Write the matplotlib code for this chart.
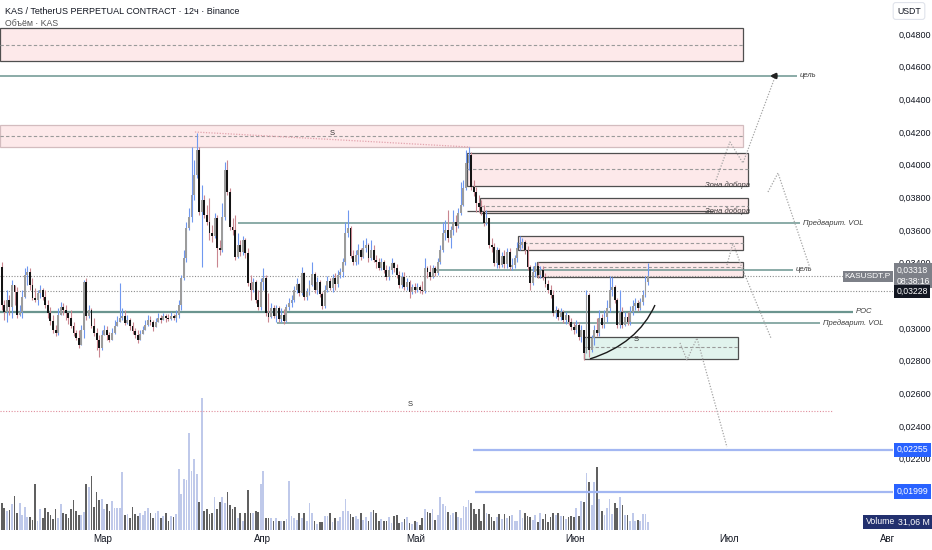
import matplotlib
matplotlib.use('Agg')
import matplotlib.pyplot as plt
import matplotlib.dates as mdates
from matplotlib.patches import Rectangle, PathPatch
from matplotlib.path import Path
from matplotlib.ticker import FuncFormatter
import numpy as np
import pandas as pd

plt.rcParams['font.family'] = ['Liberation Sans', 'DejaVu Sans']

# --- KAS/USDT perp, 12h candles ---
first_open = 0.03374
closes = [
    0.03141, 0.03099, 0.03172, 0.03129, 0.03264, 0.03221, 0.03080, 0.03099, 0.03190, 0.03325,
    0.03343, 0.03264, 0.03184, 0.03172, 0.03215, 0.03233, 0.03190, 0.03141, 0.03092, 0.03043,
    0.02988, 0.02970, 0.03080, 0.03129, 0.03111, 0.03092, 0.03062, 0.03013, 0.02970, 0.02939,
    0.02897, 0.02988, 0.03282, 0.03074, 0.03111, 0.03013, 0.02970, 0.02927, 0.02878, 0.02958,
    0.02988, 0.02958, 0.02927, 0.02970, 0.03013, 0.03037, 0.03062, 0.03074, 0.03031, 0.03050,
    0.03013, 0.02982, 0.02958, 0.02927, 0.02964, 0.02988, 0.03019, 0.03050, 0.03037, 0.03007,
    0.03037, 0.03062, 0.03050, 0.03074, 0.03062, 0.03056, 0.03074, 0.03062, 0.03080, 0.03141,
    0.03307, 0.03429, 0.03613, 0.03680, 0.03815, 0.03937, 0.04090, 0.03711, 0.03784, 0.03692,
    0.03649, 0.03582, 0.03564, 0.03674, 0.03490, 0.03478, 0.03680, 0.03968, 0.03833, 0.03619,
    0.03600, 0.03435, 0.03509, 0.03466, 0.03539, 0.03460, 0.03276, 0.03233, 0.03282, 0.03172,
    0.03129, 0.03282, 0.03307, 0.03092, 0.03068, 0.03123, 0.03074, 0.03123, 0.03056, 0.03080,
    0.03043, 0.03129, 0.03154, 0.03172, 0.03233, 0.03270, 0.03215, 0.03337, 0.03190, 0.03221,
    0.03264, 0.03331, 0.03233, 0.03282, 0.03209, 0.03135, 0.03233, 0.03288, 0.03245, 0.03307,
    0.03270, 0.03325, 0.03343, 0.03405, 0.03582, 0.03613, 0.03441, 0.03405, 0.03447, 0.03478,
    0.03435, 0.03490, 0.03509, 0.03429, 0.03478, 0.03417, 0.03405, 0.03368, 0.03405, 0.03356,
    0.03313, 0.03356, 0.03398, 0.03368, 0.03325, 0.03264, 0.03313, 0.03252, 0.03282, 0.03221,
    0.03252, 0.03233, 0.03252, 0.03233, 0.03227, 0.03368, 0.03343, 0.03313, 0.03368, 0.03337,
    0.03405, 0.03478, 0.03582, 0.03600, 0.03551, 0.03600, 0.03649, 0.03625, 0.03704, 0.03753,
    0.03857, 0.04010, 0.04059, 0.03864, 0.03833, 0.03766, 0.03741, 0.03711, 0.03643, 0.03674,
    0.03509, 0.03496, 0.03398, 0.03478, 0.03386, 0.03441, 0.03392, 0.03466, 0.03374, 0.03386,
    0.03429, 0.03490, 0.03509, 0.03527, 0.03478, 0.03374, 0.03276, 0.03343, 0.03380, 0.03325,
    0.03356, 0.03313, 0.03270, 0.03233, 0.03203, 0.03092, 0.03111, 0.03068, 0.03099, 0.03050,
    0.03080, 0.03037, 0.03007, 0.02988, 0.03019, 0.02946, 0.02988, 0.02848, 0.03203, 0.02866,
    0.02939, 0.02988, 0.02970, 0.03062, 0.03019, 0.03068, 0.03123, 0.03233, 0.03252, 0.03172,
    0.03019, 0.03099, 0.03019, 0.03068, 0.03037, 0.03099, 0.03135, 0.03154, 0.03123, 0.03160,
    0.03203, 0.03282, 0.03318,
]
highs = [
    0.03405, 0.03172, 0.03233, 0.03203, 0.03294, 0.03245, 0.03252, 0.03141, 0.03233, 0.03368,
    0.03380, 0.03368, 0.03307, 0.03245, 0.03233, 0.03264, 0.03245, 0.03233, 0.03172, 0.03129,
    0.03080, 0.03019, 0.03123, 0.03160, 0.03154, 0.03141, 0.03099, 0.03111, 0.03037, 0.02988,
    0.02988, 0.03019, 0.03294, 0.03307, 0.03141, 0.03123, 0.03062, 0.03001, 0.02958, 0.02988,
    0.03019, 0.03013, 0.02976, 0.03001, 0.03050, 0.03074, 0.03276, 0.03123, 0.03111, 0.03080,
    0.03062, 0.03037, 0.03001, 0.02988, 0.02988, 0.03013, 0.03050, 0.03080, 0.03074, 0.03050,
    0.03062, 0.03092, 0.03080, 0.03092, 0.03086, 0.03086, 0.03099, 0.03086, 0.03111, 0.03172,
    0.03325, 0.03478, 0.03649, 0.03735, 0.04108, 0.04029, 0.04194, 0.04108, 0.03876, 0.03815,
    0.03753, 0.03796, 0.03631, 0.03704, 0.03692, 0.03539, 0.03766, 0.04017, 0.04029, 0.03857,
    0.03674, 0.03692, 0.03582, 0.03539, 0.03564, 0.03551, 0.03490, 0.03325, 0.03307, 0.03294,
    0.03233, 0.03307, 0.03368, 0.03325, 0.03215, 0.03154, 0.03141, 0.03141, 0.03135, 0.03123,
    0.03117, 0.03148, 0.03184, 0.03203, 0.03258, 0.03307, 0.03276, 0.03374, 0.03343, 0.03245,
    0.03294, 0.03405, 0.03343, 0.03313, 0.03294, 0.03221, 0.03264, 0.03319, 0.03307, 0.03331,
    0.03337, 0.03356, 0.03368, 0.03429, 0.03649, 0.03723, 0.03625, 0.03478, 0.03478, 0.03515,
    0.03490, 0.03539, 0.03551, 0.03521, 0.03539, 0.03509, 0.03447, 0.03429, 0.03429, 0.03417,
    0.03386, 0.03380, 0.03429, 0.03405, 0.03392, 0.03349, 0.03343, 0.03343, 0.03307, 0.03294,
    0.03270, 0.03276, 0.03276, 0.03264, 0.03288, 0.03429, 0.03380, 0.03386, 0.03386, 0.03380,
    0.03429, 0.03509, 0.03649, 0.03662, 0.03723, 0.03625, 0.03723, 0.03692, 0.03735, 0.03894,
    0.03906, 0.04090, 0.04108, 0.04078, 0.03906, 0.03864, 0.03815, 0.03784, 0.03753, 0.03723,
    0.03674, 0.03551, 0.03521, 0.03496, 0.03490, 0.03466, 0.03478, 0.03490, 0.03490, 0.03429,
    0.03447, 0.03527, 0.03564, 0.03551, 0.03539, 0.03502, 0.03386, 0.03380, 0.03405, 0.03405,
    0.03380, 0.03380, 0.03337, 0.03294, 0.03264, 0.03233, 0.03135, 0.03123, 0.03123, 0.03111,
    0.03099, 0.03080, 0.03062, 0.03037, 0.03050, 0.03037, 0.03019, 0.02988, 0.03233, 0.03215,
    0.02958, 0.03019, 0.03062, 0.03111, 0.03086, 0.03111, 0.03172, 0.03319, 0.03313, 0.03264,
    0.03184, 0.03233, 0.03129, 0.03099, 0.03099, 0.03135, 0.03172, 0.03184, 0.03172, 0.03184,
    0.03233, 0.03319, 0.03398,
]
lows = [
    0.03111, 0.03050, 0.03037, 0.03080, 0.03062, 0.03141, 0.03062, 0.03074, 0.03062, 0.03184,
    0.03264, 0.03233, 0.03172, 0.03160, 0.03141, 0.03184, 0.03172, 0.03123, 0.03062, 0.03019,
    0.02970, 0.02952, 0.02958, 0.03099, 0.03080, 0.03050, 0.03025, 0.03001, 0.02952, 0.02927,
    0.02878, 0.02897, 0.02939, 0.03050, 0.03062, 0.03001, 0.02952, 0.02866, 0.02823, 0.02866,
    0.02958, 0.02927, 0.02915, 0.02939, 0.02964, 0.03013, 0.03050, 0.03050, 0.03019, 0.03025,
    0.02988, 0.02964, 0.02939, 0.02909, 0.02939, 0.02964, 0.03001, 0.03013, 0.03019, 0.02982,
    0.03013, 0.03037, 0.03031, 0.03050, 0.03037, 0.03043, 0.03050, 0.03050, 0.03037, 0.03062,
    0.03111, 0.03294, 0.03405, 0.03600, 0.03649, 0.03784, 0.03919, 0.03692, 0.03374, 0.03674,
    0.03631, 0.03539, 0.03527, 0.03551, 0.03374, 0.03447, 0.03466, 0.03662, 0.03815, 0.03600,
    0.03570, 0.03417, 0.03429, 0.03441, 0.03447, 0.03429, 0.03258, 0.03172, 0.03221, 0.03154,
    0.03111, 0.03111, 0.03233, 0.03074, 0.03037, 0.03062, 0.03062, 0.03037, 0.03037, 0.03037,
    0.03025, 0.03037, 0.03111, 0.03129, 0.03160, 0.03215, 0.03196, 0.03203, 0.03172, 0.03172,
    0.03203, 0.03258, 0.03215, 0.03209, 0.03190, 0.03117, 0.03123, 0.03221, 0.03233, 0.03221,
    0.03233, 0.03252, 0.03307, 0.03313, 0.03386, 0.03558, 0.03429, 0.03386, 0.03386, 0.03392,
    0.03417, 0.03429, 0.03466, 0.03405, 0.03417, 0.03405, 0.03368, 0.03356, 0.03356, 0.03337,
    0.03294, 0.03294, 0.03331, 0.03343, 0.03307, 0.03245, 0.03245, 0.03233, 0.03233, 0.03184,
    0.03209, 0.03215, 0.03221, 0.03215, 0.03209, 0.03215, 0.03307, 0.03294, 0.03307, 0.03319,
    0.03325, 0.03392, 0.03466, 0.03539, 0.03527, 0.03490, 0.03570, 0.03588, 0.03613, 0.03692,
    0.03747, 0.03845, 0.03968, 0.03845, 0.03808, 0.03711, 0.03711, 0.03692, 0.03625, 0.03631,
    0.03490, 0.03466, 0.03380, 0.03368, 0.03368, 0.03374, 0.03368, 0.03368, 0.03356, 0.03356,
    0.03368, 0.03405, 0.03478, 0.03490, 0.03454, 0.03356, 0.03233, 0.03264, 0.03313, 0.03307,
    0.03307, 0.03294, 0.03252, 0.03215, 0.03184, 0.03074, 0.03062, 0.03050, 0.03050, 0.03031,
    0.03025, 0.03019, 0.02988, 0.02964, 0.02970, 0.02927, 0.02915, 0.02805, 0.02897, 0.02823,
    0.02854, 0.02897, 0.02952, 0.02952, 0.03001, 0.03001, 0.03037, 0.03099, 0.03196, 0.03154,
    0.03001, 0.03001, 0.03001, 0.03013, 0.03019, 0.03019, 0.03080, 0.03111, 0.03105, 0.03111,
    0.03141, 0.03190, 0.03264,
]
# объём, млн KAS
volumes = [
    108, 88, 76, 80, 104, 136, 68, 108, 60, 92,
    52, 52, 40, 184, 36, 84, 48, 88, 72, 60,
    44, 84, 48, 104, 68, 64, 48, 84, 120, 76,
    60, 60, 72, 184, 172, 216, 92, 152, 120, 124,
    84, 104, 76, 116, 88, 88, 88, 232, 60, 64,
    48, 92, 64, 56, 68, 60, 76, 88, 68,
    48, 68, 76, 48, 56, 68, 36, 56, 52, 64,
    244, 144, 204, 200, 388, 236, 284, 224, 112, 528,
    76, 84, 64, 68, 132, 84, 112, 132, 108, 152,
    100, 84, 92, 48, 68, 36, 68, 160, 68, 68,
    76, 72, 184, 236, 48, 48, 48, 36, 48, 36,
    36, 36, 44, 196, 56, 48, 40, 68, 48, 68,
    36, 108, 68, 36, 24, 32, 32, 56, 56, 68,
    32, 48, 36, 52, 76, 124, 76, 64, 52, 56,
    44, 68, 40, 52, 36, 72, 80, 68, 36, 44,
    36, 36, 52, 28, 56, 60, 28, 32, 44, 52,
    28, 24, 36, 32, 20, 48, 84, 72, 68, 84,
    40, 60, 132, 104, 96, 72, 60, 68, 72, 52,
    48, 96, 92, 120, 108, 84, 64, 84, 36, 104,
    68, 64, 52, 36, 52, 64, 44, 64, 48, 56,
    60, 36, 36, 80, 48, 68, 56, 52, 40, 60,
    32, 68, 44, 64, 32, 52, 68, 60, 68, 56,
    56, 44, 52, 56, 52, 88, 56, 116, 112, 228,
    192, 100, 192, 252, 124, 76, 60, 88, 124, 64,
    108, 88, 132, 100, 60, 60, 36, 68, 36, 40,
    36, 64, 64, 31.06,
]

month_starts = ['2024-03-01', '2024-04-01', '2024-05-01', '2024-06-01', '2024-07-01', '2024-08-01']
month_labels = ['Мар', 'Апр', 'Май', 'Июн', 'Июл', 'Авг']
price_ticks = [0.022, 0.024, 0.026, 0.028, 0.030, 0.034, 0.036,
               0.038, 0.040, 0.042, 0.044, 0.046, 0.048]

# зоны: начало, конец, низ, верх, середина
zone_start = ['2024-02-09 22:00', '2024-02-09 22:00', '2024-05-10 23:00', '2024-05-13 12:00',
              '2024-05-20 21:30', '2024-05-24 14:00', '2024-06-02 18:00']
zone_end = ['2024-07-03 18:00', '2024-07-03 18:00', '2024-07-04 17:30', '2024-07-04 17:30',
            '2024-07-03 18:00', '2024-07-03 18:00', '2024-07-02 19:00']
zone_low = [0.04635, 0.04108, 0.03870, 0.03704, 0.03478, 0.03313, 0.02811]
zone_high = [0.04837, 0.04243, 0.04072, 0.03796, 0.03564, 0.03405, 0.02946]
zone_mid = [0.04733, 0.04176, 0.03974, 0.03747, 0.03521, 0.03374, 0.02884]

# горизонтальные уровни
level_price = [0.04543, 0.03643, 0.03356, 0.03099, 0.03031]
level_start = ['2024-02-09 22:00', '2024-03-27 08:00', '2024-05-04 08:00',
               '2024-02-09 22:00', '2024-04-03 22:00']
level_end = ['2024-07-14 07:00', '2024-07-14 21:00', '2024-07-13 12:00',
             '2024-07-25 05:00', '2024-07-18 18:30']
level_text = ['цель', 'Предварит. VOL', 'цель', 'POC', 'Предварит. VOL']

# прогнозные траектории
path_a = (['2024-06-28 12:00', '2024-07-01 05:00', '2024-07-03 18:00', '2024-07-10 00:00'],
          [0.03906, 0.04139, 0.04010, 0.04537])
path_b = (['2024-07-08 15:00', '2024-07-10 14:00', '2024-07-16 19:30'],
          [0.03833, 0.03949, 0.03368])
path_c = (['2024-06-30 15:00', '2024-07-01 19:30', '2024-07-03 13:30', '2024-07-09 05:00'],
          [0.03386, 0.03521, 0.03368, 0.02939])
path_d = (['2024-06-21 11:30', '2024-06-22 20:00', '2024-06-24 19:00', '2024-06-30 15:00'],
          [0.02909, 0.02805, 0.02939, 0.02272])

last_price = 0.03318
prev_level = 0.03228
blue_levels = [0.02255, 0.01999]
blue_start = ['2024-05-12 03:00', '2024-05-12 12:00']
s_level = 0.02493

D = mdates.datestr2num

times = pd.date_range('2024-02-10 06:00', periods=len(closes), freq='12h')
t = mdates.date2num(times)
c = np.array(closes)
h = np.array(highs)
l = np.array(lows)
o = np.r_[first_open, c[:-1]]
up = c >= o

fig = plt.figure(figsize=(9.32, 5.5), dpi=100)
ax = fig.add_axes([0, 20 / 550, 893 / 932, 530 / 550])
vax = ax.twinx()
ax.set_zorder(vax.get_zorder() + 1)
ax.patch.set_visible(False)

x0, x1 = D('2024-02-09 22:00'), D('2024-08-02 00:00')
ax.set_xlim(x0, x1)
ax.set_ylim(0.01764, 0.05008)
vax.set_ylim(0, 2120)
vax.yaxis.set_visible(False)
for a in (ax, vax):
    for s in a.spines.values():
        s.set_visible(False)

ax.yaxis.tick_right()
ax.set_yticks(price_ticks)
ax.yaxis.set_major_formatter(FuncFormatter(lambda v, p: f'{v:.5f}'.replace('.', ',')))
ax.tick_params(axis='y', length=0, pad=4, labelsize=6.5, labelcolor='#131722')
ax.set_xticks([D(m) for m in month_starts])
ax.set_xticklabels(month_labels)
ax.tick_params(axis='x', length=0, pad=3, labelsize=7, labelcolor='#131722')

# объём
vax.bar(t, volumes, width=0.34, color=np.where(up, '#bfc9ea', '#606060'), lw=0)

# зоны
for i in range(len(zone_low)):
    xs, xe = D(zone_start[i]), D(zone_end[i])
    green = i == 6
    face = '#e1f3ed' if green else '#fde9ea'
    edge = '#d3bcbf' if i == 1 else '#4f4f4f'
    ax.add_patch(Rectangle((xs, zone_low[i]), xe - xs, zone_high[i] - zone_low[i],
                           facecolor=face, edgecolor=edge, lw=0.9, zorder=1))
    ax.hlines(zone_mid[i], xs, xe, colors='#9a9a9a', linestyles=(0, (3, 2)), lw=0.8, zorder=1.5)

ax.hlines(0.03717, D('2024-05-10 23:00'), D('2024-06-27 22:00'), colors='#4f4f4f', lw=0.9, zorder=1.5)
ax.text(D('2024-07-05 03:00'), 0.03876, 'Зона добора', fontsize=5.5, style='italic',
        color='#3a3a3a', ha='right', va='center', zorder=6)
ax.text(D('2024-07-05 03:00'), 0.03717, 'Зона добора', fontsize=5.5, style='italic',
        color='#3a3a3a', ha='right', va='center', zorder=6)

# уровни
for p, xs, xe, txt in zip(level_price, level_start, level_end, level_text):
    lw = 1.6 if txt == 'POC' else 1.1
    ax.hlines(p, D(xs), D(xe), colors='#6b958f', lw=lw, zorder=2)
    ax.text(D(xe) + 0.6, p, txt, fontsize=5.5, style='italic', color='#3a3a3a',
            va='center', ha='left', zorder=6, clip_on=False)

# стрелка у цели
ax.annotate('', xy=(D('2024-07-08 10:00'), 0.04543), xytext=(D('2024-07-10 18:30'), 0.04543),
            arrowprops=dict(arrowstyle='-|>', color='#222222', lw=1.8, mutation_scale=7), zorder=6)

# пунктирная розовая диагональ
ax.plot([D('2024-03-18 22:00'), D('2024-05-11 13:00')], [0.04200, 0.04108],
        ls=(0, (1, 1.2)), color='#e2a3ad', lw=0.9, zorder=2)

# текущая цена и предыдущее закрытие
ax.hlines([last_price, prev_level], x0, x1, colors='#8c8c8c', linestyles=(0, (1, 1.5)), lw=0.8, zorder=2)
ax.hlines(s_level, x0, D('2024-07-21 07:00'), colors='#e08e9c', linestyles=(0, (1, 1.5)), lw=0.8, zorder=2)
for p, xs in zip(blue_levels, blue_start):
    ax.hlines(p, D(xs), x1, colors='#a3b7f2', lw=1.6, zorder=2)

# прогнозные траектории
for px, py in (path_a, path_b, path_c, path_d):
    ax.plot([D(v) for v in px], py, ls=(0, (1, 1.3)), color='#a5a5a5', lw=0.9, zorder=2)

# дуга
verts = [(D('2024-06-03 22:00'), 0.02811), (D('2024-06-13 04:30'), 0.02903),
         (D('2024-06-16 14:30'), 0.03141)]
ax.add_patch(PathPatch(Path(verts, [Path.MOVETO, Path.CURVE3, Path.CURVE3]),
                       facecolor='none', edgecolor='#1a1a1a', lw=1.0, zorder=6))

# метки S
for xs, p in (('2024-04-14 15:00', 0.04192), ('2024-06-12 21:30', 0.02927), ('2024-04-29 20:00', 0.02535)):
    ax.text(D(xs), p, 'S', fontsize=5.5, color='#333333', ha='center', va='center', zorder=6)

# свечи
lo = np.minimum(l, np.minimum(o, c))
hi = np.maximum(h, np.maximum(o, c))
ax.vlines(t, lo, hi, colors=np.where(up, '#6f98f0', '#c98690'), lw=0.8, zorder=4)
ax.bar(t, np.maximum(np.abs(c - o), 0.00004), bottom=np.minimum(o, c), width=0.37,
       color=np.where(up, '#9c9c9c', '#141414'), lw=0, zorder=5)

# ярлыки на шкале
yt = ax.get_yaxis_transform()
ax.text(0.998, last_price, 'KASUSDT.P', transform=yt, fontsize=6, color='white', ha='right',
        va='center', zorder=7, bbox=dict(boxstyle='square,pad=0.25', fc='#7d8088', ec='none'))
ax.text(1.004, last_price + 0.00002, '0,03318\n08:38:16', transform=yt, fontsize=6.2, color='white',
        ha='left', va='center', linespacing=1.4, zorder=7, clip_on=False,
        bbox=dict(boxstyle='square,pad=0.25', fc='#7d8088', ec='none'))
ax.text(1.004, prev_level - 0.00004, '0,03228', transform=yt, fontsize=6.2, color='white', ha='left',
        va='center', zorder=8, clip_on=False, bbox=dict(boxstyle='square,pad=0.25', fc='#131722', ec='none'))
for p in blue_levels:
    ax.text(1.004, p, f'{p:.5f}'.replace('.', ','), transform=yt, fontsize=6.3, color='white',
            ha='left', va='center', zorder=7, clip_on=False,
            bbox=dict(boxstyle='square,pad=0.3', fc='#2962ff', ec='none'))

fig.text(895 / 932, 1 - 522 / 550, 'Volume', fontsize=6.3, color='white', ha='right', va='center',
         bbox=dict(boxstyle='square,pad=0.3', fc='#22306e', ec='none'))
fig.text(898 / 932, 1 - 522 / 550, '31,06 M', fontsize=6.3, color='white', ha='left', va='center',
         bbox=dict(boxstyle='square,pad=0.3', fc='#22306e', ec='none'))
fig.text(909 / 932, 1 - 11 / 550, 'USDT', fontsize=6.3, color='#131722', ha='center', va='center',
         bbox=dict(boxstyle='round,pad=0.45,rounding_size=0.3', fc='white', ec='#e0e3eb', lw=0.8))

fig.text(5 / 932, 1 - 11 / 550, 'KAS / TetherUS PERPETUAL CONTRACT · 12ч · Binance',
         fontsize=6.5, color='#131722', ha='left', va='center')
fig.text(5 / 932, 1 - 23 / 550, 'Объём · KAS', fontsize=6.3, color='#555555', ha='left', va='center')

fig.savefig('out.png', dpi=100, facecolor='white')
